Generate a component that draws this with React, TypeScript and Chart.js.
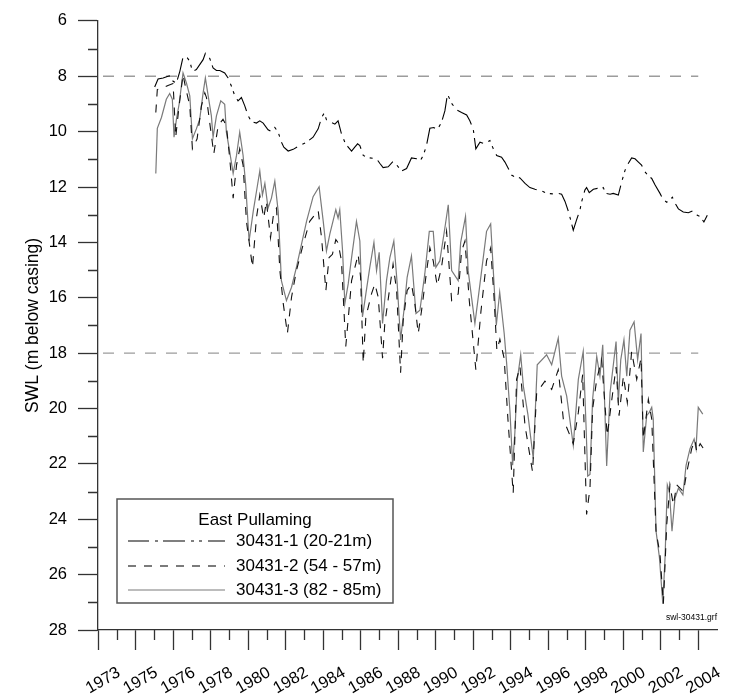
import React, { useEffect, useRef } from 'react';
import { Chart, registerables } from 'chart.js';

Chart.register(...registerables);

// ---------------- data ----------------
const S1_YEARS = [
  1976.02, 1976.2, 1976.47, 1976.73, 1976.88, 1977.0, 1977.18, 1977.36, 1977.53, 1977.71,
  1977.89, 1978.03, 1978.24, 1978.42, 1978.6, 1978.72, 1978.95, 1979.13, 1979.31, 1979.49,
  1979.75, 1979.93, 1980.11, 1980.29, 1980.46, 1980.64, 1980.82, 1981.0, 1981.18, 1981.44,
  1981.62, 1981.8, 1982.06, 1982.24, 1982.42, 1982.6, 1982.77, 1982.9, 1983.13, 1983.4,
  1983.75, 1984.11, 1984.46, 1984.73, 1984.91, 1985.05, 1985.17, 1985.44, 1985.62, 1985.79,
  1985.97, 1986.15, 1986.33, 1986.51, 1986.68, 1986.83, 1986.95, 1987.13, 1987.39, 1987.84,
  1988.02, 1988.19, 1988.46, 1988.73, 1988.9, 1989.17, 1989.44, 1989.7, 1989.97, 1990.15,
  1990.33, 1990.5, 1990.68, 1990.89, 1991.07, 1991.3, 1991.48, 1991.62, 1991.84, 1992.1,
  1992.37, 1992.64, 1992.81, 1992.99, 1993.13, 1993.35, 1993.61, 1993.88, 1994.06, 1994.24,
  1994.5, 1994.68, 1994.86, 1995.03, 1995.21, 1995.48, 1995.75, 1996.01, 1996.28, 1996.63,
  1996.9, 1997.26, 1997.52, 1997.7, 1997.88, 1998.06, 1998.2, 1998.32, 1998.5, 1998.68,
  1998.77, 1998.94, 1999.03, 1999.17, 1999.39, 1999.6, 1999.74, 1999.92, 2000.06, 2000.28,
  2000.45, 2000.72, 2000.9, 2001.08, 2001.25, 2001.43, 2001.61, 2001.79, 2001.96, 2002.14,
  2002.32, 2002.5, 2002.68, 2002.94, 2003.12, 2003.3, 2003.47, 2003.6, 2003.74, 2003.92,
  2004.18, 2004.45, 2004.68, 2004.93, 2005.07, 2005.28, 2005.46,
];
const S1_SWL = [
  8.39, 8.1, 8.06, 8.0, 7.98, 8.18, 8.24, 7.82, 7.31, 7.29,
  7.46, 7.82, 7.76, 7.58, 7.4, 7.17, 7.35, 7.7, 7.79, 7.79,
  7.88, 8.06, 8.36, 8.71, 8.89, 8.77, 9.07, 9.43, 9.64, 9.69,
  9.61, 9.69, 9.93, 10.0, 9.85, 10.02, 10.38, 10.56, 10.7, 10.64,
  10.5, 10.38, 10.2, 9.9, 9.49, 9.33, 9.57, 9.67, 9.73, 9.61,
  10.08, 10.38, 10.56, 10.7, 10.56, 10.44, 10.5, 10.86, 10.94, 10.98,
  11.15, 11.3, 11.27, 11.07, 11.19, 11.42, 11.33, 10.95, 10.98, 11.07,
  10.86, 10.5, 9.88, 9.85, 9.93, 9.67, 9.25, 8.65, 8.98, 9.21,
  9.31, 9.4, 9.61, 9.9, 10.62, 10.38, 10.44, 10.32, 10.62, 10.86,
  10.92, 11.1, 11.33, 11.57, 11.63, 11.67, 11.87, 12.02, 12.08, 12.14,
  12.23, 12.25, 12.23, 12.26, 12.52, 12.88, 13.24, 13.56, 13.18, 12.82,
  12.52, 12.11, 12.02, 12.2, 12.08, 12.05, 12.11, 12.02, 12.23, 12.26,
  12.23, 12.29, 11.81, 11.39, 11.15, 10.95, 10.98, 11.1, 11.21, 11.45,
  11.6, 11.69, 11.93, 12.23, 12.46, 12.55, 12.46, 12.37, 12.58, 12.79,
  12.9, 12.93, 12.86, 13.02, 13.06, 13.26, 13.02,
];

const S2_YEARS = [
  1976.08, 1976.16, 1976.47, 1976.73, 1977.0, 1977.14, 1977.32, 1977.53, 1977.67, 1977.89,
  1978.03, 1978.28, 1978.51, 1978.69, 1978.78, 1978.95, 1979.17, 1979.4, 1979.66, 1979.84,
  1980.02, 1980.2, 1980.38, 1980.55, 1980.73, 1980.91, 1981.23, 1981.44, 1981.62, 1981.83,
  1981.97, 1982.19, 1982.37, 1982.51, 1982.69, 1982.87, 1983.09, 1983.31, 1983.57, 1983.93,
  1984.28, 1984.73, 1984.91, 1985.14, 1985.31, 1985.49, 1985.67, 1985.79, 1985.97, 1986.2,
  1986.51, 1986.86, 1986.99, 1987.13, 1987.27, 1987.57, 1987.75, 1987.93, 1988.16, 1988.28,
  1988.55, 1988.72, 1988.91, 1989.12, 1989.26, 1989.47, 1989.7, 1989.88, 1990.06, 1990.24,
  1990.51, 1990.68, 1990.86, 1991.07, 1991.3, 1991.57, 1991.84, 1992.19, 1992.37, 1992.55,
  1992.78, 1993.13, 1993.4, 1993.7, 1993.92, 1994.1, 1994.25, 1994.41, 1994.64, 1994.85,
  1995.12, 1995.3, 1995.48, 1995.75, 1996.15, 1996.37, 1996.81, 1997.17, 1997.52, 1997.79,
  1998.32, 1998.59, 1998.82, 1999.03, 1999.21, 1999.35, 1999.57, 1999.83, 2000.13, 2000.35,
  2000.6, 2000.76, 2000.99, 2001.2, 2001.43, 2001.7, 2001.93, 2002.05, 2002.32, 2002.5,
  2002.73, 2002.94, 2003.12, 2003.3, 2003.47, 2003.65, 2003.83, 2004.19, 2004.37, 2004.63,
  2004.81, 2004.9, 2005.08, 2005.26,
];
const S2_SWL = [
  9.31, 8.48, 8.42, 8.33, 8.26, 10.2, 9.07, 7.94, 8.42, 9.07,
  10.62, 10.26, 9.07, 8.6, 8.77, 9.67, 10.8, 9.79, 9.55, 9.79,
  10.98, 12.4, 11.21, 10.62, 11.21, 13.24, 14.9, 13.12, 12.29, 13.12,
  12.52, 13.83, 12.88, 12.76, 15.02, 16.21, 17.29, 15.98, 15.02, 14.07,
  13.24, 12.85, 13.83, 15.74, 14.55, 14.43, 13.9, 14.01, 14.67, 17.76,
  15.38, 14.43, 15.26, 18.36, 16.69, 15.86, 15.5, 15.98, 18.18, 16.93,
  15.62, 14.79, 15.74, 18.71, 16.81, 15.74, 15.5, 16.21, 17.29, 16.45,
  15.02, 14.19, 14.67, 15.56, 14.9, 13.6, 16.1, 15.86, 14.31, 13.95,
  16.1, 18.6, 16.5, 14.67, 14.2, 16.0, 17.9, 17.5, 18.2, 20.5,
  23.06, 18.95, 18.48, 20.62, 22.29, 19.43, 19.01, 19.31, 18.6, 20.38,
  21.27, 20.14, 18.77, 23.83, 22.88, 20.02, 18.95, 18.24, 20.98, 19.8,
  18.5, 20.26, 18.83, 19.79, 17.94, 18.95, 18.18, 21.1, 19.67, 20.38,
  24.43, 25.26, 27.05, 24.19, 22.76, 23.48, 22.76, 23.0, 22.29, 21.45,
  21.15, 21.57, 21.27, 21.45,
];

const S3_YEARS = [
  1976.08, 1976.16, 1976.38, 1976.64, 1976.82, 1976.96, 1977.05, 1977.18, 1977.32, 1977.53,
  1977.71, 1977.89, 1978.03, 1978.24, 1978.42, 1978.6, 1978.72, 1978.87, 1979.04, 1979.13,
  1979.31, 1979.54, 1979.75, 1979.84, 1980.02, 1980.2, 1980.38, 1980.55, 1980.73, 1980.87,
  1981.05, 1981.27, 1981.44, 1981.62, 1981.76, 1981.89, 1982.06, 1982.24, 1982.42, 1982.6,
  1982.77, 1983.04, 1983.31, 1983.57, 1983.84, 1984.11, 1984.46, 1984.78, 1985.0, 1985.17,
  1985.35, 1985.67, 1985.79, 1985.88, 1986.03, 1986.15, 1986.33, 1986.51, 1986.77, 1986.95,
  1987.09, 1987.27, 1987.48, 1987.7, 1987.84, 1987.98, 1988.16, 1988.37, 1988.55, 1988.76,
  1988.94, 1989.12, 1989.3, 1989.47, 1989.7, 1989.94, 1990.15, 1990.41, 1990.65, 1990.86,
  1991.0, 1991.21, 1991.48, 1991.66, 1991.84, 1992.19, 1992.32, 1992.58, 1992.72, 1993.08,
  1993.35, 1993.7, 1993.92, 1994.06, 1994.22, 1994.4, 1994.64, 1994.77, 1994.95, 1995.09,
  1995.21, 1995.34, 1995.52, 1995.66, 1995.9, 1996.19, 1996.4, 1996.9, 1997.17, 1997.52,
  1997.7, 1997.97, 1998.32, 1998.59, 1998.85, 1999.0, 1999.09, 1999.21, 1999.35, 1999.57,
  1999.74, 1999.89, 2000.1, 2000.28, 2000.6, 2000.72, 2000.85, 2001.02, 2001.17, 2001.34,
  2001.56, 2001.75, 2001.93, 2002.05, 2002.23, 2002.37, 2002.5, 2002.58, 2002.73, 2002.91,
  2003.09, 2003.21, 2003.33, 2003.44, 2003.58, 2003.74, 2003.92, 2004.16, 2004.33, 2004.54,
  2004.76, 2004.86, 2004.98, 2005.22,
];
const S3_SWL = [
  11.51, 9.88, 9.49, 8.83, 8.62, 8.83, 10.2, 9.55, 9.01, 7.88,
  8.24, 8.71, 10.26, 9.9, 9.55, 8.6, 8.06, 8.71, 9.43, 10.2,
  9.43, 8.89, 9.01, 10.02, 10.74, 11.51, 10.86, 10.02, 10.86, 11.93,
  13.95, 12.88, 12.17, 11.42, 12.29, 11.87, 12.76, 12.4, 11.79, 12.88,
  15.38, 16.1, 15.62, 14.9, 14.07, 13.24, 12.35, 11.99, 13.24, 14.31,
  13.7, 12.82, 13.12, 12.82, 14.31, 16.21, 15.5, 14.55, 13.24, 13.95,
  16.69, 15.86, 14.9, 14.0, 15.02, 14.36, 16.93, 15.38, 14.55, 13.95,
  15.5, 17.52, 16.45, 15.26, 14.49, 16.57, 16.45, 15.14, 13.6, 13.6,
  14.9, 14.67, 13.48, 12.64, 15.02, 15.38, 14.01, 13.06, 15.02, 16.93,
  15.5, 13.6, 13.33, 15.02, 17.0, 15.8, 17.29, 18.36, 20.14, 22.05,
  20.86, 18.95, 18.06, 19.19, 20.2, 21.81, 18.42, 18.06, 18.42, 17.46,
  18.83, 19.55, 21.33, 18.95, 17.94, 20.62, 22.44, 22.38, 19.67, 18.12,
  18.83, 17.7, 22.08, 19.43, 17.58, 19.79, 18.24, 17.52, 18.83, 17.17,
  16.87, 18.24, 17.29, 21.57, 20.26, 20.14, 19.96, 20.38, 24.43, 25.38,
  27.05, 25.38, 22.76, 23.0, 24.43, 23.24, 22.88, 23.12, 22.05, 21.45,
  21.1, 21.45, 19.96, 20.2,
];

const SERIES_LABELS = ['30431-1 (20-21m)', '30431-2 (54 - 57m)', '30431-3 (82 - 85m)'];
const LEGEND_TITLE = 'East Pullaming';
const Y_TITLE = 'SWL (m below casing)';
const FILE_NOTE = 'swl-30431.grf';

// x axis: tick every 730 days from 1 Jan 1973, labelled with the year of that date
const X_TICK_LABELS = [
  '1973', '1975', '1976', '1978', '1980', '1982', '1984', '1986', '1988',
  '1990', '1992', '1994', '1996', '1998', '2000', '2002', '2004',
];
const X_START = 1973;
const X_STEP = 730 / 365.25;
const X_END = X_START + (X_TICK_LABELS.length - 0.5) * X_STEP;
const X_TICKS = X_TICK_LABELS.map((_, i) => X_START + i * X_STEP);

const Y_MIN = 6;
const Y_MAX = 28;
const Y_STEP = 2;
const REF_LEVELS = [8, 18];

const FONT = "'Liberation Sans', Arial, Helvetica, sans-serif";
const AXIS_COLOR = '#333';

const toPoints = (xs: number[], ys: number[]) => xs.map((x, i) => ({ x, y: ys[i] }));

const extrasPlugin = {
  id: 'extras',
  afterDraw(chart: any) {
    const { ctx, chartArea } = chart;
    const xs = chart.scales.x;
    const ys = chart.scales.y;
    ctx.save();
    // minor ticks
    ctx.strokeStyle = AXIS_COLOR;
    ctx.lineWidth = 1.3;
    ctx.beginPath();
    for (let v = Y_MIN + Y_STEP / 2; v < Y_MAX; v += Y_STEP) {
      const py = Math.round(ys.getPixelForValue(v)) + 0.5;
      ctx.moveTo(chartArea.left - 10, py);
      ctx.lineTo(chartArea.left, py);
    }
    for (let i = 0; i < X_TICKS.length - 1; i++) {
      const px = Math.round(xs.getPixelForValue(X_TICKS[i] + X_STEP / 2)) + 0.5;
      ctx.moveTo(px, chartArea.bottom);
      ctx.lineTo(px, chartArea.bottom + 10);
    }
    ctx.stroke();

    // file note
    ctx.fillStyle = '#000';
    ctx.font = `8.5px ${FONT}`;
    ctx.textAlign = 'right';
    ctx.textBaseline = 'middle';
    ctx.fillText(FILE_NOTE, chartArea.right, chartArea.bottom - 12);

    // legend box
    const left = chartArea.left + 19;
    const right = chartArea.left + 295;
    const bottom = chartArea.bottom - 27;
    const top = bottom - 104;
    ctx.fillStyle = '#fff';
    ctx.fillRect(left, top, right - left, bottom - top);
    ctx.strokeStyle = '#555';
    ctx.lineWidth = 1.5;
    ctx.strokeRect(left, top, right - left, bottom - top);
    ctx.fillStyle = '#000';
    ctx.font = `17px ${FONT}`;
    ctx.textAlign = 'center';
    ctx.fillText(LEGEND_TITLE, (left + right) / 2, top + 21);
    const rowY = [top + 42, top + 67, top + 91];
    chart.data.datasets.slice(0, 3).forEach((ds: any, i: number) => {
      ctx.save();
      ctx.strokeStyle = ds.borderColor;
      ctx.lineWidth = ds.borderWidth;
      ctx.setLineDash(ds.borderDash || []);
      ctx.beginPath();
      ctx.moveTo(left + 11, rowY[i]);
      ctx.lineTo(left + 108, rowY[i]);
      ctx.stroke();
      ctx.restore();
      ctx.textAlign = 'left';
      ctx.fillStyle = '#000';
      ctx.fillText(ds.label, left + 119, rowY[i]);
    });
    ctx.restore();
  },
};

export default function App() {
  const ref = useRef<HTMLCanvasElement>(null);

  useEffect(() => {
    if (!ref.current) return;
    const refSets = REF_LEVELS.map((lvl) => ({
      label: `ref-${lvl}`,
      data: [
        { x: X_START, y: lvl },
        { x: X_TICKS[X_TICKS.length - 1], y: lvl },
      ],
      borderColor: '#9c9c9c',
      borderWidth: 1.4,
      borderDash: [11, 10],
      borderDashOffset: 16,
      pointRadius: 0,
      fill: false,
    }));
    const chart = new Chart(ref.current, {
      type: 'line',
      data: {
        datasets: [
          {
            label: SERIES_LABELS[0],
            data: toPoints(S1_YEARS, S1_SWL),
            borderColor: '#000',
            borderWidth: 1.1,
            borderDash: [21, 6, 3, 5, 22, 6, 3, 5, 3, 6],
            pointRadius: 0,
            tension: 0,
            fill: false,
          },
          {
            label: SERIES_LABELS[1],
            data: toPoints(S2_YEARS, S2_SWL),
            borderColor: '#111',
            borderWidth: 1.1,
            borderDash: [8, 8],
            pointRadius: 0,
            tension: 0,
            fill: false,
          },
          {
            label: SERIES_LABELS[2],
            data: toPoints(S3_YEARS, S3_SWL),
            borderColor: '#7a7a7a',
            borderWidth: 1.2,
            pointRadius: 0,
            tension: 0,
            fill: false,
          },
          ...refSets,
        ],
      },
      options: {
        animation: false,
        responsive: false,
        devicePixelRatio: 1,
        layout: { padding: { top: 14, right: 27, bottom: 0, left: 0 } },
        plugins: { legend: { display: false }, tooltip: { enabled: false } },
        scales: {
          x: {
            type: 'linear',
            min: X_START,
            max: X_END,
            afterBuildTicks: (s: any) => {
              s.ticks = X_TICKS.map((v) => ({ value: v }));
            },
            afterFit: (s: any) => {
              s.height = 65;
            },
            ticks: {
              autoSkip: false,
              minRotation: 30,
              maxRotation: 30,
              labelOffset: 21,
              padding: 13,
              color: '#000',
              font: { family: FONT, size: 16.5 },
              callback: (_v: any, i: number) => X_TICK_LABELS[i],
            },
            grid: {
              display: true,
              drawOnChartArea: false,
              drawTicks: true,
              tickLength: 20,
              tickColor: AXIS_COLOR,
              tickWidth: 1.3,
            },
            border: { display: true, color: AXIS_COLOR, width: 1.3 },
          },
          y: {
            type: 'linear',
            reverse: true,
            min: Y_MIN,
            max: Y_MAX,
            afterFit: (s: any) => {
              s.width = 98;
            },
            ticks: {
              stepSize: Y_STEP,
              padding: 11,
              color: '#000',
              font: { family: FONT, size: 16.5 },
            },
            grid: {
              display: true,
              drawOnChartArea: false,
              drawTicks: true,
              tickLength: 20,
              tickColor: AXIS_COLOR,
              tickWidth: 1.3,
            },
            border: { display: true, color: AXIS_COLOR, width: 1.3 },
            title: {
              display: true,
              text: Y_TITLE,
              color: '#000',
              font: { family: FONT, size: 17.5 },
              padding: { top: 23, bottom: 0 },
            },
          },
        },
      },
      plugins: [extrasPlugin],
    } as any);
    return () => chart.destroy();
  }, []);

  return (
    <div style={{ position: 'fixed', left: 0, top: 0, width: 744, height: 695, background: '#fff' }}>
      <canvas ref={ref} width={744} height={695} style={{ width: 744, height: 695 }} />
    </div>
  );
}
